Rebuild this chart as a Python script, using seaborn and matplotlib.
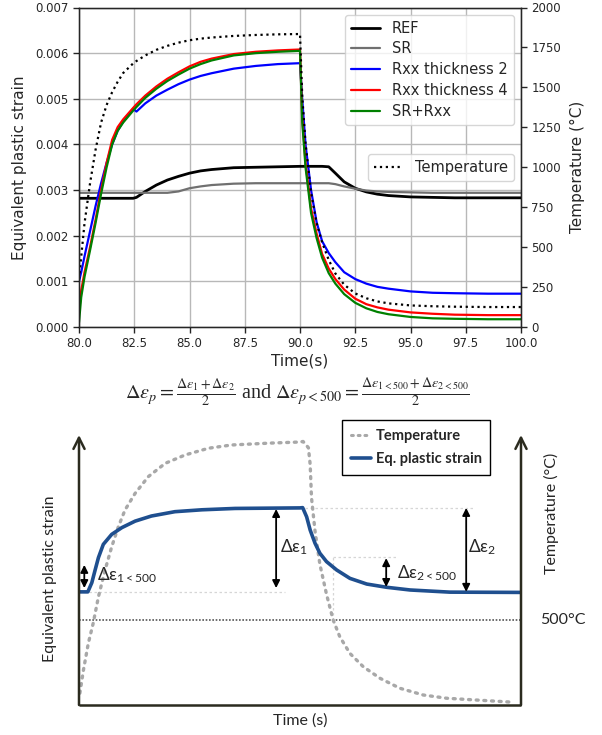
import numpy as np
import pandas as pd
import matplotlib
matplotlib.use("Agg")
import matplotlib.pyplot as plt
import seaborn as sns
from matplotlib.lines import Line2D

# ---------------- data: top chart ----------------
time = [80.0, 80.1, 80.25, 80.5, 80.75, 81.0, 81.25, 81.5, 81.75, 82.0, 82.45, 82.6, 83.0, 83.5,
        84.0, 84.5, 85.0, 85.5, 86.0, 87.0, 88.0, 89.0, 90.0, 90.1, 90.25, 90.5, 90.75, 91.0,
        91.3, 91.6, 92.0, 92.5, 93.0, 93.5, 94.0, 95.0, 96.0, 97.0, 98.5, 100.0]

ref = [2.82, 2.82, 2.82, 2.82, 2.82, 2.82, 2.82, 2.82, 2.82, 2.82, 2.82, 2.84, 2.97, 3.11,
       3.22, 3.30, 3.37, 3.42, 3.45, 3.49, 3.50, 3.51, 3.52, 3.52, 3.52, 3.52, 3.52, 3.52,
       3.51, 3.37, 3.18, 3.04, 2.96, 2.91, 2.88, 2.85, 2.84, 2.83, 2.83, 2.83]

sr = [2.94, 2.94, 2.94, 2.94, 2.94, 2.94, 2.94, 2.94, 2.94, 2.94, 2.94, 2.94, 2.94, 2.94,
      2.94, 2.97, 3.04, 3.08, 3.11, 3.14, 3.15, 3.15, 3.15, 3.15, 3.15, 3.15, 3.15, 3.15,
      3.15, 3.13, 3.08, 3.03, 2.99, 2.97, 2.96, 2.95, 2.94, 2.94, 2.94, 2.94]

rxx2 = [1.00, 1.20, 1.55, 2.10, 2.65, 3.15, 3.60, 4.00, 4.30, 4.50, 4.78, 4.72, 4.90, 5.07,
        5.20, 5.32, 5.42, 5.50, 5.56, 5.66, 5.72, 5.76, 5.78, 5.00, 4.00, 3.00, 2.30, 1.88,
        1.62, 1.42, 1.20, 1.05, 0.95, 0.88, 0.84, 0.78, 0.75, 0.74, 0.73, 0.73]

rxx4 = [0.30, 0.80, 1.20, 1.75, 2.35, 3.00, 3.60, 4.10, 4.38, 4.55, 4.80, 4.88, 5.07, 5.27,
        5.44, 5.58, 5.71, 5.81, 5.88, 5.98, 6.03, 6.06, 6.08, 4.60, 3.60, 2.60, 2.05, 1.60,
        1.28, 1.05, 0.82, 0.62, 0.50, 0.43, 0.38, 0.32, 0.29, 0.27, 0.26, 0.26]

srrxx = [0.10, 0.65, 1.10, 1.68, 2.28, 2.92, 3.50, 4.00, 4.30, 4.48, 4.74, 4.82, 5.02, 5.22,
         5.39, 5.53, 5.66, 5.76, 5.84, 5.95, 6.00, 6.03, 6.05, 4.50, 3.50, 2.50, 1.95, 1.52,
         1.18, 0.95, 0.72, 0.53, 0.41, 0.33, 0.28, 0.22, 0.19, 0.18, 0.17, 0.17]

temperature = [300, 440, 650, 900, 1110, 1280, 1390, 1470, 1535, 1590, 1650, 1665, 1700, 1735,
               1760, 1780, 1795, 1805, 1812, 1822, 1828, 1832, 1834, 1450, 1150, 840, 650, 530,
               420, 335, 265, 210, 180, 160, 148, 135, 130, 127, 125, 125]

series_names = ["REF", "SR", "Rxx thickness 2", "Rxx thickness 4", "SR+Rxx"]
series_colors = ["black", "#707070", "#0000ff", "#ff0000", "#008000"]
series_widths = [2.0, 1.6, 1.6, 1.6, 1.6]

xticks_top = [80.0, 82.5, 85.0, 87.5, 90.0, 92.5, 95.0, 97.5, 100.0]
yticks_left = [0.000, 0.001, 0.002, 0.003, 0.004, 0.005, 0.006, 0.007]
yticks_right = [0, 250, 500, 750, 1000, 1250, 1500, 1750, 2000]

# ---------------- data: schematic (arbitrary units 0-100) ----------------
sch_strain_t = [0, 2.0, 2.9, 3.6, 4.4, 5.5, 7.4, 9.7, 12.7, 16.4, 21.7, 27.8, 35.3, 50.0,
                50.6, 51.5, 52.3, 53.4, 54.5, 56.0, 58.3, 61.3, 65.1, 69.6, 74.9, 83.9, 100]
sch_strain = [41.9, 41.9, 45.3, 49.7, 54.6, 59.5, 63.2, 65.7, 68.1, 70.0, 71.6, 72.3, 72.8, 73.0,
              73.1, 69.7, 64.8, 59.9, 56.2, 53.1, 50.0, 46.9, 44.8, 43.6, 42.6, 41.8, 41.7]

sch_temp_t = [0.2, 1.0, 2.1, 3.2, 4.4, 5.9, 7.4, 8.9, 10.4, 12.7, 15.7, 19.5, 24.0, 29.3, 34.5,
              43.2, 50.0, 50.7, 51.9, 52.3, 52.6, 53.4, 54.5, 56.0, 57.5, 59.0, 61.3, 64.3,
              68.1, 72.6, 77.9, 83.2, 97.5]
sch_temp = [4.4, 12.9, 22.8, 30.2, 40.1, 50.0, 58.6, 66.0, 72.2, 78.4, 84.6, 89.5, 92.6, 95.1,
            96.3, 97.0, 97.4, 97.6, 95.3, 89.1, 76.8, 64.4, 52.1, 41.0, 31.5, 25.3, 19.1, 14.2,
            9.9, 6.2, 3.7, 2.5, 1.1]

sch_level_500 = 31.5

# ---------------- style ----------------
sns.set_style("ticks")
plt.rcParams["font.family"] = ["DejaVu Sans"]
plt.rcParams["mathtext.fontset"] = "stix"

W, H = 602, 735
fig = plt.figure(figsize=(W / 100, H / 100), dpi=100)

# ---------------- top chart ----------------
ax = fig.add_axes([79 / W, 1 - 327 / H, 442 / W, 319.5 / H])
vals = [ref, sr, rxx2, rxx4, srrxx]
for name, v, c, lw in zip(series_names, vals, series_colors, series_widths):
    df = pd.DataFrame({"Time": time, "Strain": np.array(v) * 1e-3})
    sns.lineplot(data=df, x="Time", y="Strain", ax=ax, color=c, lw=lw, label=name)

ax.set_xlim(80, 100)
ax.set_ylim(0, 0.007)
ax.set_xticks(xticks_top)
ax.set_xticklabels([f"{t:.1f}" for t in xticks_top])
ax.set_yticks(yticks_left)
ax.set_yticklabels([f"{t:.3f}" for t in yticks_left])
ax.grid(True, color="#b8b8b8", lw=1)
ax.tick_params(labelsize=8.5, direction="out", length=4, width=1)
ax.set_xlabel("Time(s)", fontsize=11, labelpad=2)
ax.set_ylabel("Equivalent plastic strain", fontsize=11, labelpad=6)
for s in ax.spines.values():
    s.set_linewidth(1.0)
    s.set_color("black")
ax.legend(loc="upper right", fontsize=10.5, framealpha=0.8, edgecolor="0.8",
          handlelength=2.0, borderpad=0.4, labelspacing=0.4)

ax2 = ax.twinx()
dft = pd.DataFrame({"Time": time, "Temperature": temperature})
sns.lineplot(data=dft, x="Time", y="Temperature", ax=ax2, color="black", lw=1.6,
             linestyle=":", label="Temperature")
ax2.set_ylim(0, 2000)
ax2.set_yticks(yticks_right)
ax2.tick_params(labelsize=8.5, direction="out", length=4, width=1)
ax2.set_ylabel("Temperature (°C)", fontsize=11, labelpad=6)
ax2.set_xlabel("")
ax2.legend(loc="center right", fontsize=10.5, framealpha=0.8, edgecolor="0.8", borderpad=0.4)

# ---------------- formula ----------------
formula = (r"$\Delta\varepsilon_{p} = \frac{\Delta\varepsilon_1+\Delta\varepsilon_2}{2}$"
           r" and $\Delta\varepsilon_{p<500} = \frac{\Delta\varepsilon_{1<500}+\Delta\varepsilon_{2<500}}{2}$")
fig.text(297 / W, 1 - 393 / H, formula, ha="center", va="center", fontsize=14.5,
         family="Liberation Serif")

# ---------------- schematic ----------------
bx = fig.add_axes([79 / W, 1 - 705 / H, 442 / W, 270 / H])

axis_col = "#2b2b1f"
blue = "#1f4f8f"
gray_dot = "#a8a8a8"
helper = "#d6d6d6"

# helper lines
bx.plot([0, 46.6], [41.9, 41.9], color=helper, lw=0.9, ls=(0, (2, 2)))
bx.plot([50, 89.6], [73.0, 73.0], color=helper, lw=0.9, ls=(0, (2, 2)))
bx.plot([57.5, 71.9], [54.8, 54.8], color=helper, lw=0.9, ls=(0, (2, 2)))
bx.plot([57.5, 57.5], [31.5, 54.8], color=helper, lw=0.9, ls=(0, (2, 2)))
bx.plot([0, 100], [sch_level_500, sch_level_500], color="#555555", lw=1.2, ls=(0, (1, 1)))

dtemp = pd.DataFrame({"t": sch_temp_t, "T": sch_temp})
sns.lineplot(data=dtemp, x="t", y="T", ax=bx, color=gray_dot, lw=2.4, sort=False,
             linestyle=(0, (0.6, 1.7)), dash_capstyle="round")
dstr = pd.DataFrame({"t": sch_strain_t, "e": sch_strain})
sns.lineplot(data=dstr, x="t", y="e", ax=bx, color=blue, lw=2.6, sort=False)
bx.set_xlim(0, 100)
bx.set_ylim(0, 100)
bx.axis("off")

# axes arrows
aprops = dict(arrowstyle="->", color=axis_col, lw=1.8, mutation_scale=20, shrinkA=0, shrinkB=0)
bx.annotate("", xy=(0, 100), xytext=(0, 0), arrowprops=aprops, annotation_clip=False)
bx.annotate("", xy=(100, 100), xytext=(100, 0), arrowprops=aprops, annotation_clip=False)
bx.plot([0, 100], [0, 0], color=axis_col, lw=1.8, clip_on=False, solid_capstyle="butt")

# double arrows
dprops = dict(arrowstyle="<|-|>", color="black", lw=1.3, mutation_scale=11, shrinkA=0, shrinkB=0)
for x, y1, y2 in [(1.2, 43.3, 51.9), (44.6, 43.3, 72.6), (87.6, 41.9, 73.0), (69.5, 43.7, 54.4)]:
    bx.annotate("", xy=(x, y2), xytext=(x, y1), arrowprops=dprops, annotation_clip=False)

lab_font = ["Lato", "DejaVu Sans"]
bx.text(4.0, 48.1, r"Δε$_{\mathregular{1<500}}$", fontsize=12.5, family=lab_font, va="center", ha="left")
bx.text(45.5, 58.5, r"Δε$_{\mathregular{1}}$", fontsize=12.5, family=lab_font, va="center", ha="left")
bx.text(88.0, 58.5, r"Δε$_{\mathregular{2}}$", fontsize=12.5, family=lab_font, va="center", ha="left")
bx.text(72.0, 48.9, r"Δε$_{\mathregular{2<500}}$", fontsize=12.5, family=lab_font, va="center", ha="left")

handles = [Line2D([], [], color=gray_dot, lw=2.2, linestyle=(0, (0.6, 1.6)), dash_capstyle="round"),
           Line2D([], [], color=blue, lw=2.6)]
leg = bx.legend(handles, ["Temperature", "Eq. plastic strain"], loc="upper left",
                bbox_to_anchor=(342 / W, 1 - 420 / H), bbox_transform=fig.transFigure,
                borderaxespad=0, fancybox=False, edgecolor="black", framealpha=1,
                prop={"family": "Lato", "size": 10.5, "weight": "bold"},
                handlelength=1.4, handletextpad=0.3, borderpad=0.6, labelspacing=0.65)
leg.get_frame().set_linewidth(1.0)

fig.text(50 / W, 1 - 579 / H, "Equivalent plastic strain", rotation=90, ha="center", va="center",
         fontsize=11.5, family="Lato")
fig.text(551 / W, 1 - 513 / H, "Temperature (°C)", rotation=90, ha="center", va="center",
         fontsize=11.5, family="Lato")
fig.text(300 / W, 1 - 721 / H, "Time (s)", ha="center", va="center", fontsize=11.5, family="Lato")
fig.text(540 / W, 1 - 620 / H, "500°C", ha="left", va="center", fontsize=11.5, family="Lato")

fig.savefig("out.png", dpi=100)
